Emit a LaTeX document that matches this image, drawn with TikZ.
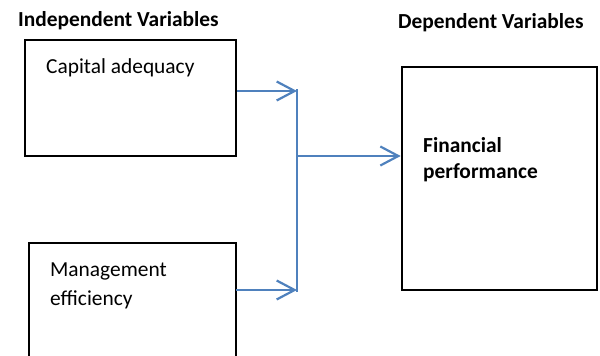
\documentclass[tikz,border=0pt]{standalone}
\usepackage{fontspec}
\setmainfont{Carlito}
\usetikzlibrary{arrows.meta}
\definecolor{arrowblue}{HTML}{4F81BD}
\begin{document}
\begin{tikzpicture}[x=1pt,y=-1pt,
  boxst/.style={draw=black,line width=2.6pt,inner sep=0pt},
  txt/.style={font=\fontsize{21.4}{29}\selectfont,anchor=base west,inner sep=0pt,align=left},
  ttl/.style={font=\fontsize{21.4}{29}\selectfont\bfseries,anchor=base west,inner sep=0pt},
  conn/.style={draw=arrowblue,line width=2.2pt},
  arr/.style={conn,-{Straight Barb[length=18pt,width=19pt,line width=2.2pt]}}]
\useasboundingbox (0,0) rectangle (600,356);
\clip (0,0) rectangle (600,356);
% boxes
\node[boxst,minimum width=211pt,minimum height=116pt] (cap) at (130.5,98) {};
\draw[boxst] (29,370) -- (29,243) -- (236,243) -- (236,370);
\coordinate (mgmtR) at (236,290);
\node[boxst,minimum width=195pt,minimum height=223pt] (fin) at (499.5,178.5) {};
% titles
\node[ttl] (tind) at (18,27) {Independent Variables};
\node[ttl] (tdep) at (398,28) {Dependent Variables};
% texts
\node[txt] (tcap) at (46,73) {Capital adequacy};
\node[txt] (tmgmt) at (50,305) {Management\\efficiency};
\node[txt,font=\fontsize{21.4}{26}\selectfont\bfseries] (tfin) at (423,178) {Financial\\performance};
% connectors
\coordinate (j1) at (297,91);
\coordinate (j2) at (297,290);
\coordinate (jm) at (297,156);
\draw[conn] (297,89) coordinate (jtop) -- (297,292) coordinate (jbot);
\draw[arr] (cap.east |- j1) -- (j1);
\draw[arr] (mgmtR) -- (j2);
\draw[arr] (jm) -- (fin.west |- jm);
\end{tikzpicture}
\end{document}
